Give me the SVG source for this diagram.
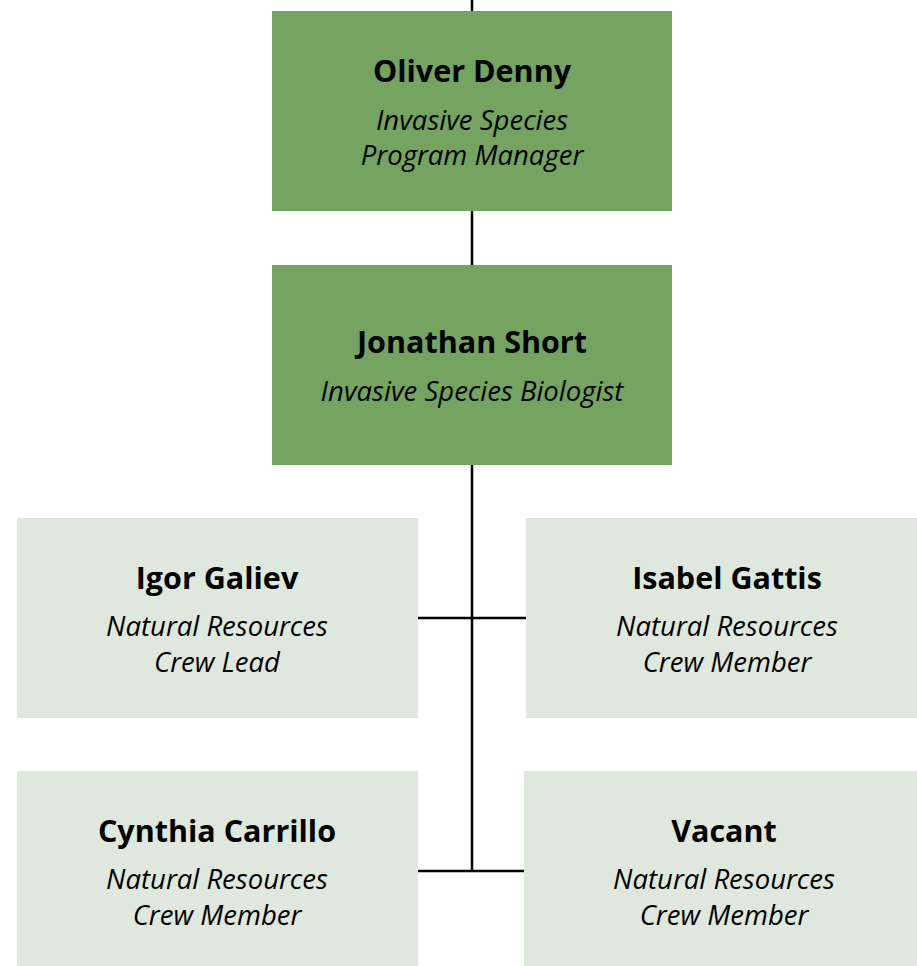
<svg xmlns="http://www.w3.org/2000/svg" width="917" height="966" viewBox="0 0 917 966">
<style>
.dark{fill:#75a360}
.light{fill:#dfe8dc}
.name{font-family:"Open Sans","Noto Sans",sans-serif;font-weight:700;font-size:30.5px;fill:#000;text-anchor:middle}
.title{font-family:"Open Sans","Noto Sans",sans-serif;font-style:italic;font-weight:500;font-size:27.5px;fill:#000;text-anchor:middle}
.conn{stroke:#000;stroke-width:2.5;fill:none}
</style>
<rect width="917" height="966" fill="#fff"/>
<g id="connectors">
<line class="conn" x1="472" y1="0" x2="472" y2="11"/>
<line class="conn" x1="472" y1="211" x2="472" y2="265"/>
<line class="conn" x1="472" y1="465" x2="472" y2="871"/>
<line class="conn" x1="418" y1="618" x2="526" y2="618"/>
<line class="conn" x1="418" y1="871" x2="524" y2="871"/>
</g>
<g id="oliver">
<rect class="dark" x="272" y="11" width="400" height="200"/>
<text class="name" x="472" y="82">Oliver Denny</text>
<text class="title" x="472" y="130">Invasive Species</text>
<text class="title" x="472" y="165">Program Manager</text>
</g>
<g id="jonathan">
<rect class="dark" x="272" y="265" width="400" height="200"/>
<text class="name" x="472" y="353">Jonathan Short</text>
<text class="title" x="472" y="401">Invasive Species Biologist</text>
</g>
<g id="igor">
<rect class="light" x="17" y="518" width="401" height="200"/>
<text class="name" x="217" y="589">Igor Galiev</text>
<text class="title" x="217" y="636">Natural Resources</text>
<text class="title" x="217" y="672">Crew Lead</text>
</g>
<g id="isabel">
<rect class="light" x="526" y="518" width="402" height="200"/>
<text class="name" x="727" y="589">Isabel Gattis</text>
<text class="title" x="727" y="636">Natural Resources</text>
<text class="title" x="727" y="672">Crew Member</text>
</g>
<g id="cynthia">
<rect class="light" x="17" y="771" width="401" height="200"/>
<text class="name" x="217" y="842">Cynthia Carrillo</text>
<text class="title" x="217" y="889">Natural Resources</text>
<text class="title" x="217" y="925">Crew Member</text>
</g>
<g id="vacant">
<rect class="light" x="524" y="771" width="400" height="200"/>
<text class="name" x="724" y="842">Vacant</text>
<text class="title" x="724" y="889">Natural Resources</text>
<text class="title" x="724" y="925">Crew Member</text>
</g>
</svg>
